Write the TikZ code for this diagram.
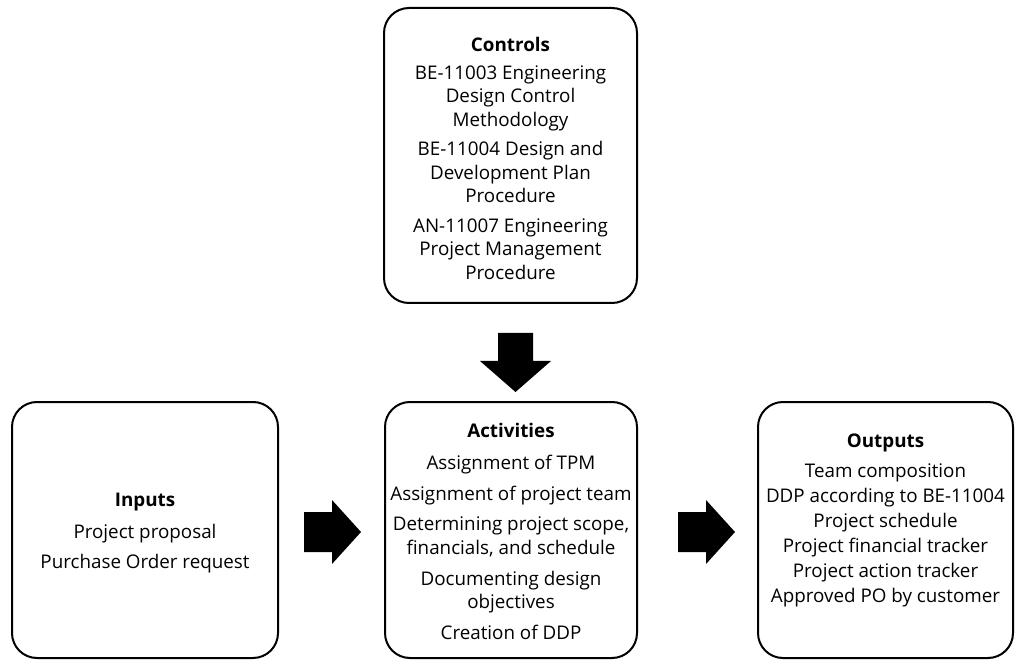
\documentclass[tikz,border=0pt]{standalone}
\usepackage{fontspec}
\setmainfont{Open Sans}
\begin{document}
\begin{tikzpicture}[x=1pt,y=-1pt,
  box/.style={draw,line width=2pt,rounded corners=25pt,inner sep=0pt},
  txt/.style={align=center,inner sep=0pt,font=\fontsize{18.8}{23.5}\selectfont},
  rblock/.pic={\fill[black] (0,-20) -- (28,-20) -- (28,-32) -- (57,0)
     -- (28,32) -- (28,20) -- (0,20) -- cycle;},
  dblock/.pic={\fill[black] (-17.5,0) -- (17.5,0) -- (17.5,28) -- (35.5,28)
     -- (0,59) -- (-35.5,28) -- (-17.5,28) -- cycle;}]
\useasboundingbox (0,0) rectangle (1015,660);

% frames
\node[box,minimum width=253pt,minimum height=295pt] (controls) at (510.5,155.5) {};
\node[box,minimum width=266pt,minimum height=256pt] (inputs) at (145,530) {};
\node[box,minimum width=252pt,minimum height=256pt] (activities) at (511,530) {};
\node[box,minimum width=255pt,minimum height=256pt] (outputs) at (885.5,530) {};

% contents (yshift is in page units, so negative moves down)
\node[txt] (controlstext) at ([yshift=-3pt]controls.center)
  {\textbf{Controls}\\[4pt]
   BE-11003 Engineering\\ Design Control\\ Methodology\\[6pt]
   BE-11004 Design and\\ Development Plan\\ Procedure\\[6pt]
   AN-11007 Engineering\\ Project Management\\ Procedure};

\node[txt] (inputstext) at ([yshift=-3pt]inputs.center)
  {\textbf{Inputs}\\[8.5pt] Project proposal\\[6.5pt] Purchase Order request};

\node[txt] (activitiestext) at ([yshift=-1pt]activities.center)
  {\textbf{Activities}\\[9pt] Assignment of TPM\\[7pt] Assignment of project team\\[7pt]
   Determining project scope,\\ financials, and schedule\\[7.5pt]
   Documenting design\\ objectives\\[7pt] Creation of DDP};

\node[txt] (outputstext) at ([yshift=9.5pt]outputs.center)
  {\textbf{Outputs}\\[6pt] Team composition\\[1.5pt] DDP according to BE-11004\\[1.5pt]
   Project schedule\\[1.5pt] Project financial tracker\\[1.5pt] Project action tracker\\[1.5pt]
   Approved PO by customer};

% block arrows between the boxes
\coordinate (c2a) at (515.5,333);
\coordinate (i2a) at (304,532);
\coordinate (a2o) at (678,532);
\pic at (c2a) {dblock};
\pic at (i2a) {rblock};
\pic at (a2o) {rblock};
\end{tikzpicture}
\end{document}
